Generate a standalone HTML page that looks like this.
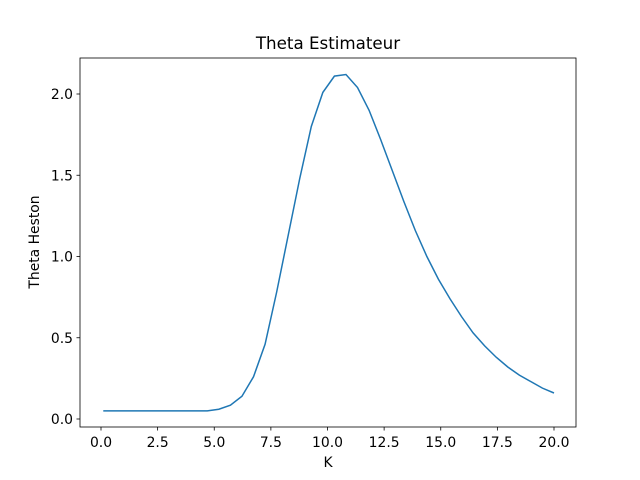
<!DOCTYPE html>
<html><head><meta charset="utf-8"><style>
body{margin:0;background:#fff}
svg{display:block;font-family:"DejaVu Sans","Liberation Sans",sans-serif}
</style></head><body>
<svg id="chart" width="640" height="480">
<rect width="640" height="480" fill="#fff"/>
<text x="328" y="49" font-size="16.7" text-anchor="middle">Theta Estimateur</text>
<text x="328" y="467" font-size="13.9" text-anchor="middle">K</text>
<text transform="translate(39,242) rotate(-90)" font-size="13.9" text-anchor="middle">Theta Heston</text>
<g id="xticks"></g>
<g id="yticks"></g>
<polyline id="line" fill="none" stroke="#1f77b4" stroke-width="1.5"/>
<rect x="80" y="58" width="496" height="369" fill="none" stroke="#000" stroke-width="0.8"/>
</svg>
<script>
const kValues = [];
for (let i = 0; i < 40; i++) kValues.push(0.1 + i * (19.9 / 39));
const thetaValues = [0.05,0.05,0.05,0.05,0.05,0.05,0.05,0.05,0.05,0.05,0.06,0.085,0.14,0.26,0.46,0.78,1.13,1.48,1.80,2.01,2.11,2.12,2.04,1.90,1.72,1.53,1.34,1.16,1.00,0.86,0.74,0.63,0.53,0.45,0.38,0.32,0.27,0.23,0.19,0.16];
const xTickLabels = ["0.0","2.5","5.0","7.5","10.0","12.5","15.0","17.5","20.0"];
const yTickLabels = ["0.0","0.5","1.0","1.5","2.0"];
const NS = "http://www.w3.org/2000/svg";
function xs(v){return 101 + v * (453/20);}
function ys(v){return 419 - v * 162.5;}
const pts = kValues.map((k,i)=>xs(k).toFixed(2)+","+ys(thetaValues[i]).toFixed(2)).join(" ");
document.getElementById("line").setAttribute("points", pts);
const gx = document.getElementById("xticks");
xTickLabels.forEach(l=>{
  const x = xs(parseFloat(l));
  const t = document.createElementNS(NS,"line");
  t.setAttribute("x1",x);t.setAttribute("x2",x);t.setAttribute("y1",427);t.setAttribute("y2",430.5);
  t.setAttribute("stroke","#000");t.setAttribute("stroke-width","0.8");
  
  
  gx.appendChild(t);
  const tx = document.createElementNS(NS,"text");
  tx.setAttribute("x",x);tx.setAttribute("y",447);tx.setAttribute("font-size","13.9");tx.setAttribute("text-anchor","middle");
  tx.textContent = l;
  
  
  gx.appendChild(tx);
});
const gy = document.getElementById("yticks");
yTickLabels.forEach(l=>{
  const y = ys(parseFloat(l));
  const t = document.createElementNS(NS,"line");
  t.setAttribute("x1",76.5);t.setAttribute("x2",80);t.setAttribute("y1",y);t.setAttribute("y2",y);
  t.setAttribute("stroke","#000");t.setAttribute("stroke-width","0.8");
  
  
  gy.appendChild(t);
  const tx = document.createElementNS(NS,"text");
  tx.setAttribute("x",73);tx.setAttribute("y",y+5);tx.setAttribute("font-size","13.9");tx.setAttribute("text-anchor","end");
  tx.textContent = l;
  
  
  gy.appendChild(tx);
});
</script>
</body></html>
